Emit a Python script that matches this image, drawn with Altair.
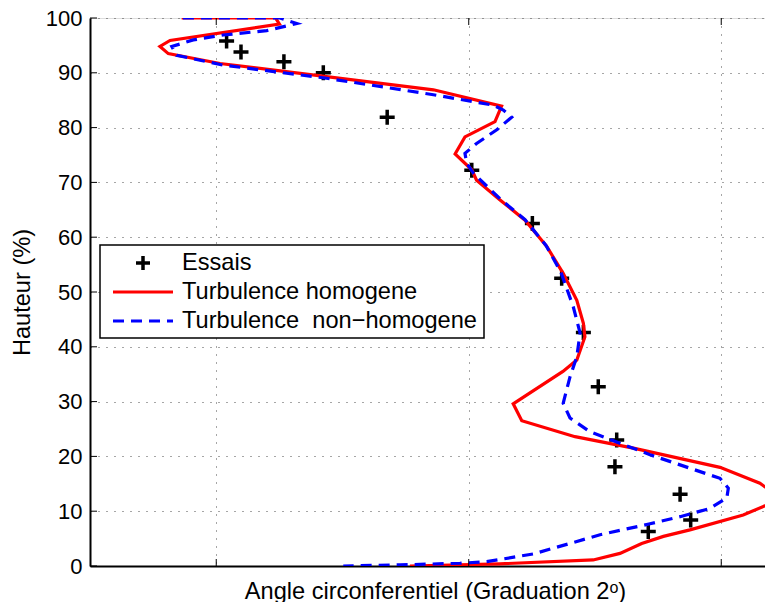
import altair as alt
import pandas as pd

# ---- data (x in grid units, y in %) ----
ess_x = [1.041, 1.098, 1.268, 1.424, 1.677, 2.012, 2.252, 2.368, 2.454, 2.513, 2.586, 2.579, 2.837, 2.879, 2.711]
ess_y = [95.8, 93.8, 92.0, 90.0, 81.9, 72.2, 62.5, 52.5, 42.6, 32.7, 23.0, 18.1, 13.1, 8.4, 6.3]

red_x = [0.863, 1.235, 1.250, 0.817, 0.777, 0.810, 1.015, 1.860, 2.130, 2.104,
         1.985, 1.946, 2.012, 2.031, 2.124, 2.223, 2.309, 2.374, 2.428, 2.454,
         2.460, 2.428, 2.373, 2.176, 2.210, 2.421, 2.652, 2.995, 3.153, 3.240,
         3.087, 2.876, 2.771, 2.685, 2.599, 2.493, 2.124, 1.767]
red_y = [100.0, 100.0, 98.9, 95.9, 94.8, 93.5, 91.7, 86.9, 83.9, 81.1,
         78.3, 75.2, 72.3, 70.4, 66.8, 63.1, 58.3, 53.4, 48.5, 44.3,
         41.8, 37.6, 35.5, 29.6, 26.5, 23.6, 21.5, 18.0, 15.1, 12.3,
         9.3, 6.6, 5.4, 4.1, 2.3, 1.1, 0.4, 0.0]

blue_x = [0.868, 1.252, 1.319, 1.200, 1.028, 0.909, 0.824, 0.843, 1.028, 1.437,
          1.860, 2.097, 2.137, 2.170, 2.111, 2.031, 1.985, 1.992, 2.018, 2.124,
          2.223, 2.306, 2.365, 2.414, 2.441, 2.428, 2.401, 2.374, 2.401, 2.480,
          2.718, 2.995, 3.028, 3.022, 2.955, 2.837, 2.718, 2.520, 2.256, 2.071,
          1.965, 1.728, 1.503]
blue_y = [100.0, 100.0, 99.0, 97.7, 96.9, 96.0, 94.8, 93.2, 91.4, 89.0,
          86.0, 84.1, 83.2, 81.9, 79.6, 77.1, 75.3, 73.5, 71.7, 67.0,
          63.2, 58.5, 53.6, 47.3, 42.5, 38.2, 34.5, 29.7, 27.0, 24.5,
          20.3, 16.0, 14.2, 12.4, 10.5, 9.0, 7.7, 5.7, 2.2, 0.8,
          0.5, 0.2, 0.0]

x_ticks = [1, 2, 3]
y_ticks = [0, 10, 20, 30, 40, 50, 60, 70, 80, 90, 100]
legend_labels = ["Essais", "Turbulence homogene", "Turbulence \u00a0non\u2212homogene"]

FONT = "Liberation Sans"
W, H = 675, 548
PLUS = "M-1,0L1,0M0,-1L0,1"

xs = alt.Scale(domain=[0.5, 3.1733], nice=False, zero=False)
ys = alt.Scale(domain=[0, 100], nice=False, zero=False)

x_axis = alt.Axis(values=x_ticks, labels=False, ticks=False, tickSize=0, grid=True,
                  gridDash=[1, 7], gridColor="#222", gridOpacity=0.8, gridWidth=1,
                  domainColor="black", domainWidth=2,
                  title="Angle circonferentiel (Graduation 2\u1d52)",
                  titleX=345, titleY=32, titleAlign="center", titleBaseline="alphabetic",
                  titleFontSize=23.6, titleFontWeight="normal", titleFont=FONT, titleColor="black")
y_axis = alt.Axis(values=y_ticks, ticks=False, tickSize=0, labelPadding=8, labelFontSize=22,
                  labelFont=FONT, labelColor="black", grid=True,
                  gridDash=[1, 7], gridColor="#222", gridOpacity=0.8, gridWidth=1,
                  domainColor="black", domainWidth=2,
                  title="Hauteur (%)", titleX=-68, titleY=274, titleAngle=270,
                  titleAlign="center", titleBaseline="middle",
                  titleFontSize=23.6, titleFontWeight="normal", titleFont=FONT, titleColor="black")

df_e = pd.DataFrame({"x": ess_x, "y": ess_y})
df_r = pd.DataFrame({"x": red_x, "y": red_y, "i": list(range(len(red_x)))})
df_b = pd.DataFrame({"x": blue_x, "y": blue_y, "i": list(range(len(blue_x)))})
df_xt = pd.DataFrame({"x": x_ticks})
df_yt = pd.DataFrame({"y": y_ticks})

X = alt.X("x:Q", scale=xs, axis=x_axis)
Y = alt.Y("y:Q", scale=ys, axis=y_axis)

points = alt.Chart(df_e).mark_point(shape=PLUS, size=225, strokeWidth=3.5, color="black",
                                    filled=False, opacity=1, clip=True).encode(x=X, y=Y)
red = alt.Chart(df_r).mark_line(color="#ff0000", strokeWidth=3.2, clip=True).encode(
    x=X, y=Y, order="i:Q")
blue = alt.Chart(df_b).mark_line(color="#0000ff", strokeWidth=3.2, strokeDash=[11, 7],
                                 clip=True).encode(x=X, y=Y, order="i:Q")

ytk = alt.Chart(df_yt).mark_rule(color="black", strokeWidth=1).encode(
    y=Y, x=alt.value(0), x2=alt.value(7))
xtk_b = alt.Chart(df_xt).mark_rule(color="black", strokeWidth=1).encode(
    x=X, y=alt.value(H), y2=alt.value(H - 7))
xtk_t = alt.Chart(df_xt).mark_rule(color="black", strokeWidth=1).encode(
    x=X, y=alt.value(0), y2=alt.value(7))

one = alt.Data(values=[{"k": 1}])
leg_box = alt.Chart(one).mark_rect(fill="white", stroke="black", strokeWidth=1.5).encode(
    x=alt.value(10), x2=alt.value(394), y=alt.value(227), y2=alt.value(320))
leg_pt = alt.Chart(one).mark_point(shape=PLUS, size=196, strokeWidth=3.5, color="black",
                                   filled=False, opacity=1).encode(
    x=alt.value(53), y=alt.value(245))
leg_red = alt.Chart(one).mark_rule(color="#ff0000", strokeWidth=3.2).encode(
    x=alt.value(23), x2=alt.value(83), y=alt.value(274))
leg_blue = alt.Chart(one).mark_rule(color="#0000ff", strokeWidth=3.2, strokeDash=[11, 7]).encode(
    x=alt.value(23), x2=alt.value(83), y=alt.value(303))

leg_texts = []
for lab, yy in zip(legend_labels, [245, 274, 303]):
    leg_texts.append(
        alt.Chart(alt.Data(values=[{"label": lab}])).mark_text(
            align="left", baseline="middle", fontSize=23.6, font=FONT, color="black").encode(
            text="label:N", x=alt.value(92), y=alt.value(yy)))

chart = alt.layer(points, red, blue, ytk, xtk_b, xtk_t, leg_box, leg_pt, leg_red, leg_blue,
                  *leg_texts).properties(
    width=W, height=H,
    autosize=alt.AutoSizeParams(type="none"),
    padding={"left": 82, "top": 10, "right": 0, "bottom": 36},
).configure_view(stroke="black", strokeWidth=1.5).configure(background="white")

chart.save("out.html", embed_options={"renderer": "svg", "actions": False})
